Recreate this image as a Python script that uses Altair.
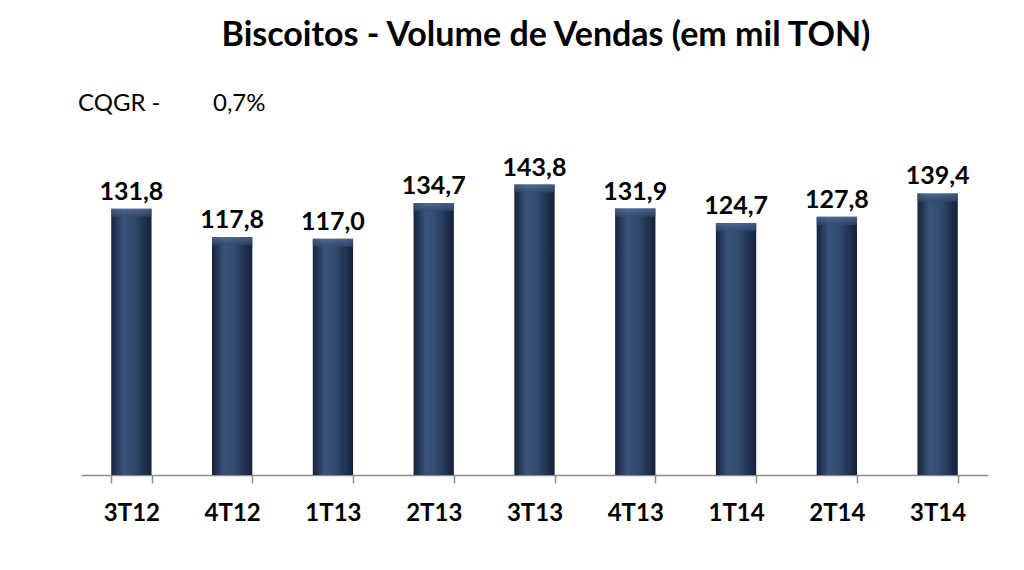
import altair as alt
import pandas as pd

categories = ["3T12", "4T12", "1T13", "2T13", "3T13", "4T13", "1T14", "2T14", "3T14"]
values = [131.8, 117.8, 117.0, 134.7, 143.8, 131.9, 124.7, 127.8, 139.4]
labels = ["131,8", "117,8", "117,0", "134,7", "143,8", "131,9", "124,7", "127,8", "139,4"]
title_text = "Biscoitos - Volume de Vendas (em mil TON)"
cagr_label = "CQGR  -"
cagr_value = "0,7%"

df = pd.DataFrame({"cat": categories, "val": values, "lab": labels})

FONT = "Lato"

x_enc = alt.X(
    "cat:N",
    sort=categories,
    scale=alt.Scale(paddingInner=0.6, paddingOuter=0.3),
    axis=alt.Axis(
        title=None,
        labelAngle=0,
        labelFont=FONT,
        labelFontWeight="bold",
        labelFontSize=24,
        labelColor="#000000",
        labelPadding=18,
        domainColor="#8c8c8c",
        domainWidth=1.5,
        tickColor="#8c8c8c",
        tickWidth=1.5,
        tickSize=8,
        tickBand="extent",
        grid=False,
    ),
)
y_scale = alt.Scale(domain=[0, 150], nice=False)

base = alt.Chart(df)

bars = base.mark_bar(
    fill=alt.Gradient(
        gradient="linear",
        x1=0, x2=1, y1=0, y2=0,
        stops=[
            alt.GradientStop(offset=0, color="#16233b"),
            alt.GradientStop(offset=0.3, color="#3b537b"),
            alt.GradientStop(offset=0.55, color="#334a70"),
            alt.GradientStop(offset=1, color="#15213a"),
        ],
    )
).encode(x=x_enc, y=alt.Y("val:Q", scale=y_scale, axis=None))

bevel = base.transform_calculate(top2="datum.val - 4").mark_bar(
    fill=alt.Gradient(
        gradient="linear",
        x1=0, x2=0, y1=0, y2=1,
        stops=[
            alt.GradientStop(offset=0, color="#5a73a0"),
            alt.GradientStop(offset=1, color="#30476d"),
        ],
    ),
    opacity=0.7,
).encode(x=x_enc, y=alt.Y("val:Q", scale=y_scale), y2="top2:Q")

text = base.mark_text(
    font=FONT, fontWeight="bold", fontSize=25, color="#000000", dy=-9, baseline="alphabetic"
).encode(x=x_enc, y=alt.Y("val:Q", scale=y_scale), text="lab:N")

cagr_df = pd.DataFrame({"t": [cagr_label, cagr_value], "px": [-3, 132]})
cagr = alt.Chart(cagr_df).mark_text(
    font=FONT, fontSize=24, color="#000000", align="left", baseline="alphabetic"
).encode(x=alt.X("px:Q", scale=None), y=alt.value(-61), text="t:N")

title_df = pd.DataFrame({"t": [title_text]})
title = alt.Chart(title_df).mark_text(
    font=FONT, fontSize=34, fontWeight="bold", color="#000000", align="center", baseline="alphabetic"
).encode(x=alt.value(465), y=alt.value(-126), text="t:N")

chart = alt.layer(bars, bevel, text, cagr, title).properties(
    width=907,
    height=303,
    autosize=alt.AutoSizeParams(type="none"),
    padding={"left": 81, "top": 172, "right": 36, "bottom": 95},
    view=alt.ViewBackground(stroke="transparent", strokeWidth=0),
).configure_view(stroke="transparent", strokeWidth=0).configure(background="#ffffff")

chart.save("out.html", embed_options={"renderer": "svg", "actions": False})
